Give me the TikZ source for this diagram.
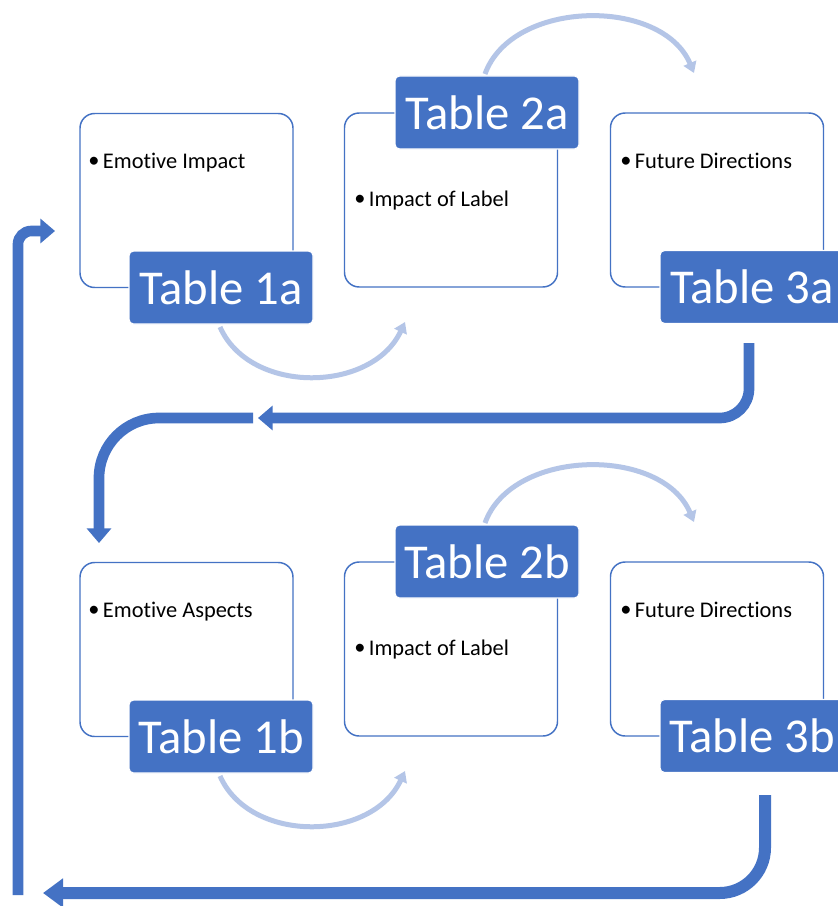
\documentclass[tikz,border=0pt]{standalone}
\usepackage{fontspec}
\setmainfont{Carlito}[Ligatures={NoCommon}]
\usetikzlibrary{arrows.meta}
\definecolor{accent}{HTML}{4472C4}
\definecolor{lightarc}{HTML}{B4C5E7}
\tikzset{
  contentbox/.style={draw=accent, line width=1.1pt, fill=white, rounded corners=11pt,
    minimum width=159.75pt, minimum height=130.5pt, inner sep=0pt},
  tablelabel/.style={fill=accent, draw=white, line width=0.8pt, rounded corners=3.5pt,
    minimum width=138pt, minimum height=54.75pt, inner sep=0pt,
    text=white, font=\fontsize{36.5pt}{42pt}\selectfont},
  bullettext/.style={anchor=base west, inner sep=0pt, font=\fontsize{16.8pt}{20pt}\selectfont},
  lightarrow/.style={draw=lightarc, line width=3.75pt,
    -{Triangle[length=8pt,width=10pt]}},
  bigarrow/.style={draw=accent, line width=8pt,
    -{Triangle[length=11pt,width=18pt]}}
}
\newcommand{\bul}{\makebox[11pt][l]{\raisebox{0.5pt}{\textbullet}}}
\begin{document}
\begin{tikzpicture}[x=0.75pt,y=-0.75pt]
\path[use as bounding box, clip] (0,0) rectangle (838,906);
\fill[white] (0,0) rectangle (838,906);

% ---- row 1 boxes
\node[contentbox] (b1a) at (186.5,200.5) {};
\node[contentbox] (b2a) at (451,200) {};
\node[contentbox] (b3a) at (717,200) {};
\node[bullettext] (t1a) at (88,168) {\bul Emotive Impact};
\node[bullettext] (t2a) at (354,206) {\bul Impact of Label};
\node[bullettext] (t3a) at (620,168) {\bul Future Directions};
\node[tablelabel] (l1a) at (221,287.5) {Table 1a};
\node[tablelabel] (l2a) at (487,112.5) {Table 2a};
\node[tablelabel] (l3a) at (752,287) {Table 3a};

% ---- row 2 boxes
\node[contentbox] (b1b) at (186.5,649.5) {};
\node[contentbox] (b2b) at (451,649) {};
\node[contentbox] (b3b) at (717,649) {};
\node[bullettext] (t1b) at (88,617) {\bul Emotive Aspects};
\node[bullettext] (t2b) at (354,655) {\bul Impact of Label};
\node[bullettext] (t3b) at (620,617) {\bul Future Directions};
\node[tablelabel] (l1b) at (221,736.5) {Table 1b};
\node[tablelabel] (l2b) at (487,561.5) {Table 2b};
\node[tablelabel] (l3b) at (752,736) {Table 3b};

% ---- light curved arrows
\coordinate (c1as) at (220,327);  \coordinate (c1ae) at (405,322);
\coordinate (c2as) at (485,74);   \coordinate (c2ae) at (694,73);
\coordinate (c1bs) at (220,776);  \coordinate (c1be) at (405,771);
\coordinate (c2bs) at (485,523);  \coordinate (c2be) at (694,522);
\draw[lightarrow] (c1as) .. controls (250,395) and (372,393) .. (c1ae);
\draw[lightarrow] (c2as) .. controls (512,-1) and (662,-3) .. (c2ae);
\draw[lightarrow] (c1bs) .. controls (250,844) and (372,842) .. (c1be);
\draw[lightarrow] (c2bs) .. controls (512,448) and (662,446) .. (c2be);

% ---- thick connectors
\coordinate (r1out) at (749,343);
\coordinate (midin) at (258,418);
\coordinate (midout) at (253,418);
\coordinate (r2in) at (99,543);
\coordinate (r2out) at (765,795);
\coordinate (botin) at (43,893);
\coordinate (leftout) at (18,895);
\coordinate (r1in) at (55,231);
\draw[bigarrow, rounded corners=22pt] (r1out) |- (midin);
\draw[bigarrow, rounded corners=45pt] (midout) -| (r2in);
\draw[bigarrow, line width=9pt, -{Triangle[length=15pt,width=21pt]}, rounded corners=34pt] (r2out) |- (botin);
\draw[bigarrow, rounded corners=10pt] (leftout) |- (r1in);
\end{tikzpicture}
\end{document}
